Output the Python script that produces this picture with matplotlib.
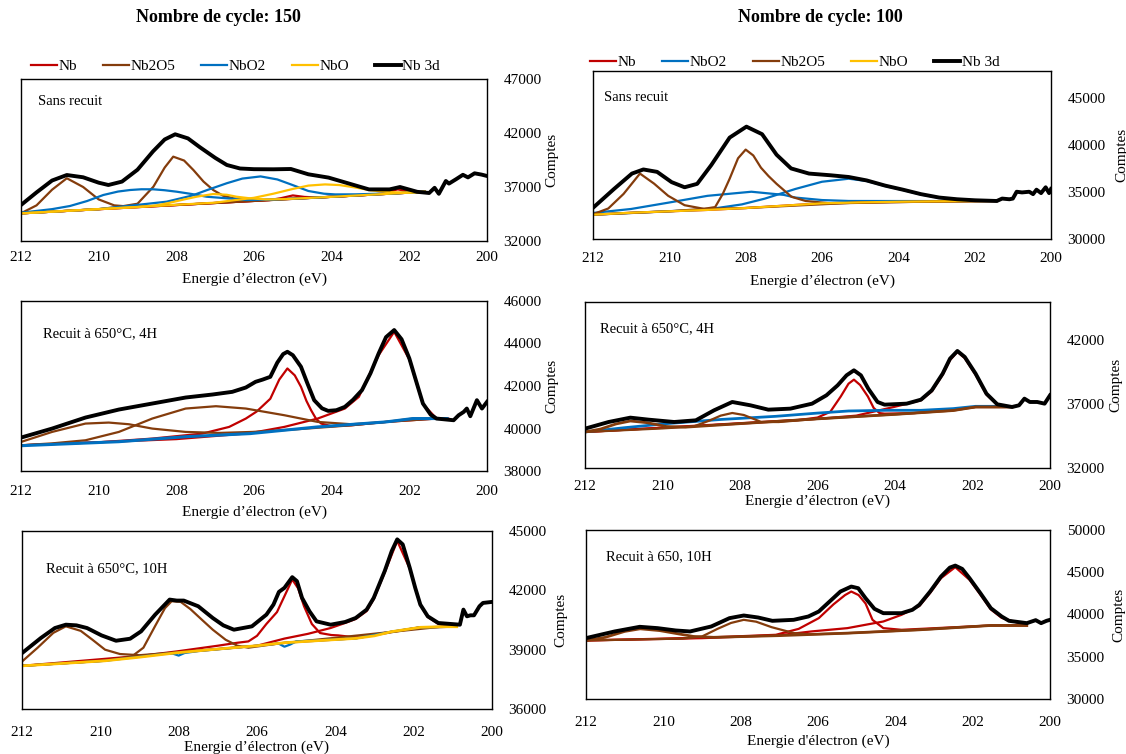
import matplotlib
matplotlib.use("Agg")
import matplotlib.pyplot as plt

plt.rcParams['font.family'] = ['Liberation Serif', 'DejaVu Serif']

RED = '#C00000'
BROWN = '#843C0C'
BLUE = '#0070C0'
YELLOW = '#FFC000'

xticks = [212, 210, 208, 206, 204, 202, 200]

# ---------------- Panel 1 : 150 cycles, sans recuit ----------------
p1_black_x = [212, 211.6, 211.2, 210.82, 210.4, 210.0, 209.75, 209.4, 209.0, 208.6, 208.3, 208.03,
              207.7, 207.4, 207.0, 206.7, 206.36, 206.0, 205.5, 205.05, 204.6, 204.08, 203.48,
              203.04, 202.51, 202.24, 201.8, 201.49, 201.35, 201.24, 201.06, 200.98, 200.8,
              200.62, 200.49, 200.32, 200.14, 200.0]
p1_black_y = [35333, 36500, 37600, 38110, 37900, 37400, 37185, 37500, 38600, 40300, 41400, 41880,
              41500, 40700, 39700, 39040, 38713, 38650, 38640, 38667, 38176, 37870, 37240,
              36778, 36778, 37000, 36555, 36444, 36925, 36370, 37555, 37315, 37713,
              38130, 37889, 38268, 38148, 38020]
p1_nb2o5_a_x = [212, 211.6, 211.2, 210.82, 210.4, 210.0, 209.6, 209.2, 208.5, 207, 204, 201.6]
p1_nb2o5_a_y = [34565, 35300, 36750, 37810, 37000, 35850, 35300, 35180, 35250, 35520, 36090, 36556]
p1_nb2o5_b_x = [212, 210, 209.5, 209.0, 208.59, 208.3, 208.08, 207.8, 207.56, 207.3, 207.05,
                206.8, 206.53, 206.2, 205.85, 204, 201.6]
p1_nb2o5_b_y = [34560, 34950, 35150, 35450, 37030, 38800, 39810, 39450, 38570, 37500, 36720,
                36200, 35950, 35800, 35780, 36090, 36556]
p1_nbo2_a_x = [212, 211.2, 210.74, 210.3, 209.88, 209.5, 209.19, 208.9, 208.59, 208.3, 207.99,
               207.6, 207.22, 206.7, 206.2, 205.5, 204.5, 203, 201.6]
p1_nbo2_a_y = [34620, 34950, 35240, 35700, 36260, 36580, 36722, 36790, 36786, 36700, 36564,
               36350, 36100, 35953, 35800, 35840, 36000, 36290, 36556]
p1_nbo2_b_x = [212, 210, 208.25, 207.6, 207.22, 206.7, 206.3, 205.83, 205.4, 205.05, 204.6,
               204.2, 203.91, 203.4, 202.86, 202, 201.6]
p1_nbo2_b_y = [34560, 34950, 35640, 36200, 36700, 37350, 37780, 37980, 37700, 37240, 36630,
               36380, 36314, 36320, 36370, 36480, 36556]
p1_nbo_a_x = [212, 210, 209, 208.5, 208.16, 207.8, 207.48, 207.05, 206.7, 206.45, 206.1, 205.7,
              205.2, 204, 201.6]
p1_nbo_a_y = [34560, 34950, 35140, 35300, 35550, 35850, 36100, 36350, 36280, 36100, 35950, 35850,
              35880, 36090, 36556]
p1_nbo_b_x = [212, 207, 206.5, 206.0, 205.5, 205.0, 204.6, 204.17, 203.8, 203.4, 203.0, 202.5,
              202.0, 201.6]
p1_nbo_b_y = [34560, 35550, 35780, 36000, 36380, 36820, 37130, 37240, 37180, 36960, 36700, 36520,
              36480, 36556]
p1_nb_a_x = [212, 206, 205.6, 205.3, 205.0, 204.7, 204.4, 204, 201.6]
p1_nb_a_y = [34560, 35710, 35790, 35970, 36220, 36080, 36040, 36090, 36556]
p1_nb_b_x = [212, 203, 202.7, 202.5, 202.3, 202.1, 201.9, 201.6]
p1_nb_b_y = [34560, 36290, 36400, 36600, 36780, 36650, 36500, 36556]

# ---------------- Panel 2 : 100 cycles, sans recuit ----------------
p2_black_x = [212, 211.45, 210.98, 210.68, 210.32, 209.94, 209.6, 209.27, 208.9, 208.42, 207.98,
              207.57, 207.19, 206.81, 206.34, 205.77, 205.3, 204.83, 204.35, 203.88, 203.41,
              202.93, 202.46, 201.99, 201.42, 201.28, 201.09, 201.0, 200.9, 200.76, 200.57,
              200.47, 200.38, 200.26, 200.14, 200.05, 200.0]
p2_black_y = [33321, 35328, 36971, 37409, 37153, 36058, 35511, 35876, 37883, 40803, 41971,
              41168, 38978, 37518, 36971, 36788, 36606, 36241, 35693, 35255, 34781,
              34416, 34234, 34124, 34051, 34307, 34234, 34307, 35036, 34963, 35036,
              34781, 35255, 34890, 35511, 34890, 35328]
p2_nb2o5_a_x = [212, 211.6, 211.2, 210.77, 210.4, 210.03, 209.6, 209.09, 208, 205, 201.42]
p2_nb2o5_a_y = [32640, 33250, 34800, 36971, 35900, 34600, 33600, 33212, 33300, 33900, 34051]
p2_nb2o5_b_x = [212, 210, 209.09, 208.8, 208.6, 208.42, 208.2, 208.0, 207.8, 207.6, 207.4,
                207.19, 206.8, 206.43, 205.77, 203, 201.42]
p2_nb2o5_b_y = [32591, 32950, 33212, 33400, 34800, 36420, 38600, 39525, 38900, 37600, 36700,
                35876, 34500, 34051, 33796, 34000, 34051]
p2_nbo2_a_x = [212, 211, 210.03, 209, 207.85, 207, 206.7, 206, 205.3, 203, 201.42]
p2_nbo2_a_y = [32774, 33200, 33869, 34600, 35036, 34700, 34416, 34150, 34051, 34040, 34051]
p2_nbo2_b_x = [212, 209, 208.1, 207.5, 206.7, 206.0, 205.3, 204.83, 204.35, 203.88, 203.41,
               202.93, 202.46, 201.99, 201.42]
p2_nbo2_b_y = [32591, 33150, 33686, 34300, 35328, 36100, 36423, 36180, 35650, 35220, 34740,
               34390, 34210, 34110, 34051]
p2_base_x = [212, 211, 210, 209, 208, 207, 206, 205, 204, 203, 202, 201.42]
p2_base_y = [32591, 32800, 32950, 33100, 33300, 33550, 33800, 33900, 33970, 34010, 34040, 34051]

# ---------------- Panel 3 : 150 cycles, 650°C 4H ----------------
p3_black_x = [212, 211.2, 210.34, 209.48, 208.62, 207.76, 207.07, 206.56, 206.21, 205.96, 205.78,
              205.58, 205.4, 205.25, 205.14, 205.0, 204.79, 204.62, 204.45, 204.25, 204.09,
              203.88, 203.66, 203.45, 203.22, 203.0, 202.79, 202.6, 202.39, 202.2, 202.0,
              201.82, 201.65, 201.45, 201.3, 200.86, 200.73, 200.6, 200.52, 200.43, 200.26,
              200.13, 200.0]
p3_black_y = [39572, 39996, 40515, 40892, 41175, 41458, 41599, 41725, 41929, 42197, 42300,
              42432, 43100, 43500, 43611, 43450, 42904, 42100, 41332, 40950, 40829,
              40860, 41018, 41350, 41804, 42600, 43533, 44300, 44633, 44200, 43297,
              42200, 41175, 40650, 40468, 40389, 40625, 40780, 40939, 40578, 41332,
              40939, 41253]
p3_nb2o5_a_x = [212, 211.2, 210.34, 209.74, 209.22, 208.62, 207.76, 206.9, 206.04, 205.0,
                203.5, 202.6, 201.3]
p3_nb2o5_a_y = [39367, 39839, 40232, 40279, 40200, 39996, 39839, 39792, 39839, 39950,
                40150, 40310, 40468]
p3_nb2o5_b_x = [212, 211.2, 210.34, 209.48, 208.62, 207.76, 206.98, 206.21, 205.22, 204.36,
                203.49, 202.6, 201.91, 201.3]
p3_nb2o5_b_y = [39210, 39300, 39446, 39839, 40468, 40939, 41049, 40939, 40625, 40310,
                40200, 40310, 40468, 40468]
p3_nb_a_x = [212, 210, 208.62, 207.33, 206.64, 206.21, 205.93, 205.58, 205.35, 205.14, 204.95,
             204.79, 204.65, 204.53, 204.4, 204.27, 204.0, 203.5, 202.6, 201.3]
p3_nb_a_y = [39210, 39350, 39525, 39760, 40075, 40468, 40800, 41400, 42300, 42825, 42500,
             41961, 41300, 40861, 40450, 40232, 40106, 40150, 40310, 40468]
p3_nb_b_x = [212, 208, 206.1, 205.22, 204.36, 203.66, 203.3, 202.79, 202.39, 202.0, 201.65,
             201.3, 201.0]
p3_nb_b_y = [39210, 39500, 39780, 40075, 40468, 40939, 41489, 43450, 44550, 43250, 41150,
             40470, 40468]
p3_nbo2_x = [212, 209.48, 207.76, 206.1, 204.36, 202.6, 201.91, 201.03]
p3_nbo2_y = [39190, 39379, 39614, 39760, 40075, 40310, 40468, 40468]

# ---------------- Panel 4 : 100 cycles, 650°C 4H ----------------
p4_black_x = [212, 211.39, 210.83, 210.36, 209.7, 209.14, 208.67, 208.2, 207.73, 207.27, 206.7,
              206.14, 205.77, 205.48, 205.25, 205.06, 204.88, 204.69, 204.45, 204.27, 203.7,
              203.33, 203.05, 202.77, 202.58, 202.39, 202.2, 201.92, 201.64, 201.36, 200.98,
              200.8, 200.66, 200.52, 200.33, 200.14, 200.0]
p4_black_y = [35081, 35603, 35943, 35786, 35603, 35734, 36517, 37170, 36909, 36569, 36648,
              37039, 37692, 38475, 39258, 39650, 39258, 38214, 37170, 36961, 37039,
              37352, 38084, 39389, 40564, 41164, 40694, 39389, 37822, 36987, 36778,
              36909, 37430, 37170, 37170, 37039, 37692]
p4_nb2o5_a_x = [212, 211.6, 211.2, 210.83, 210.4, 209.9, 209.4, 208, 206, 204, 202.5, 201.92,
                200.98]
p4_nb2o5_a_y = [34820, 35050, 35450, 35681, 35550, 35250, 35200, 35473, 35850, 36200, 36500,
                36778, 36778]
p4_nb2o5_b_x = [212, 210, 209.2, 208.8, 208.5, 208.2, 207.9, 207.45, 207.0, 206, 204, 202.5,
                201.92, 200.98]
p4_nb2o5_b_y = [34820, 35100, 35250, 35700, 36100, 36308, 36150, 35603, 35600, 35850, 36200,
                36500, 36778, 36778]
p4_nb_a_x = [212, 208, 206.5, 206.0, 205.67, 205.4, 205.2, 205.06, 204.9, 204.7, 204.55, 204.4,
             204.27, 203.5, 201.92, 200.98]
p4_nb_a_y = [34820, 35473, 35750, 35950, 36400, 37600, 38600, 38919, 38500, 37600, 36700, 36300,
             36256, 36300, 36778, 36778]
p4_nb_b_x = [212, 206, 205, 204.5, 204.0, 203.33, 203.05, 202.77, 202.58, 202.39, 202.2, 201.92,
             201.64, 201.36, 200.98]
p4_nb_b_y = [34820, 35850, 36100, 36450, 36800, 37300, 38000, 39300, 40450, 41100, 40600, 39300,
             37750, 36950, 36778]
p4_nbo2_x = [212, 211, 209.9, 208.5, 207.08, 206, 205.2, 204.2, 203.33, 202.5, 201.92, 201.2]
p4_nbo2_y = [34820, 35150, 35473, 35800, 36047, 36300, 36465, 36520, 36517, 36650, 36830, 36830]

# ---------------- Panel 5 : 150 cycles, 650°C 10H ----------------
p5_black_x = [212, 211.52, 211.16, 210.88, 210.61, 210.34, 209.97, 209.6, 209.24, 208.96, 208.6,
              208.23, 208.05, 207.87, 207.5, 207.13, 206.86, 206.59, 206.13, 205.76, 205.58,
              205.44, 205.3, 205.1, 204.98, 204.85, 204.66, 204.48, 204.12, 203.75, 203.48,
              203.2, 203.02, 202.74, 202.56, 202.42, 202.28, 202.1, 201.96, 201.83, 201.64,
              201.37, 200.82, 200.73, 200.64, 200.55, 200.46, 200.32, 200.23, 200.0]
p5_black_y = [38825, 39587, 40094, 40263, 40229, 40094, 39722, 39452, 39553, 39925, 40771,
              41532, 41482, 41482, 41194, 40602, 40229, 40010, 40179, 40771, 41278,
              41921, 42124, 42666, 42463, 41617, 40940, 40432, 40263, 40399, 40602,
              41025, 41617, 42970, 43985, 44577, 44323, 43139, 42124, 41278, 40686,
              40348, 40263, 41025, 40686, 40737, 40737, 41194, 41363, 41414]
p5_nb2o5_a_x = [212, 211.6, 211.2, 210.88, 210.5, 210.2, 209.88, 209.5, 209.0, 208, 206, 204,
                201.3]
p5_nb2o5_a_y = [38400, 39100, 39850, 40180, 39950, 39500, 39000, 38780, 38720, 38870, 39200,
                39600, 40160]
p5_nb2o5_b_x = [212, 209.9, 209.2, 208.9, 208.6, 208.35, 208.18, 207.95, 207.7, 207.4, 207.13,
                206.8, 206.5, 206.22, 205.3, 203.48, 201.83, 200.9]
p5_nb2o5_b_y = [38183, 38437, 38650, 39100, 40200, 41100, 41448, 41420, 41050, 40500, 40011,
                39500, 39200, 39100, 39350, 39571, 40130, 40160]
p5_nb_a_x = [212, 210, 208.05, 207, 206.5, 206.22, 206.0, 205.76, 205.49, 205.3, 205.1, 204.95,
             204.8, 204.6, 204.39, 204.1, 203.93, 203.48, 201.83, 200.9]
p5_nb_a_y = [38183, 38430, 38911, 39200, 39350, 39418, 39700, 40300, 40900, 41700, 42549, 42100,
             41200, 40300, 39841, 39740, 39722, 39620, 40130, 40160]
p5_nb_b_x = [212, 208, 206, 205.3, 204.7, 204.12, 203.75, 203.48, 203.2, 203.02, 202.74, 202.42,
             202.1, 201.83, 201.64, 201.37, 200.9]
p5_nb_b_y = [38183, 38850, 39200, 39560, 39800, 40095, 40350, 40550, 40950, 41550, 42900, 44500,
             43100, 41250, 40650, 40300, 40160]
p5_nbo2_x = [212, 209.88, 208.4, 208.15, 208.0, 207.85, 207.5, 206, 205.45, 205.3, 205.15, 205.0,
             203.48, 202.57, 201.83, 200.9]
p5_nbo2_y = [38183, 38437, 38780, 38800, 38700, 38830, 38930, 39200, 39310, 39150, 39260, 39420,
             39571, 39909, 40130, 40160]
p5_nbo_x = [212, 211, 209.88, 209, 208.05, 207, 206, 205.3, 204.5, 203.48, 203, 202.57, 201.83,
            201.3, 200.9]
p5_nbo_y = [38183, 38300, 38437, 38620, 38843, 39030, 39200, 39350, 39450, 39571, 39700, 39909,
            40130, 40160, 40160]

# ---------------- Panel 6 : 100 cycles, 650 10H ----------------
p6_black_x = [212, 211.26, 210.61, 210.15, 209.68, 209.31, 208.76, 208.29, 207.92, 207.55, 207.18,
              206.63, 206.25, 205.98, 205.7, 205.42, 205.14, 204.96, 204.77, 204.54, 204.31,
              203.84, 203.56, 203.38, 203.1, 202.82, 202.59, 202.45, 202.27, 202.08, 201.8,
              201.53, 201.25, 201.06, 200.6, 200.37, 200.23, 200.09, 200.0]
p6_black_y = [37205, 37992, 38543, 38386, 38110, 37992, 38583, 39567, 39882, 39646, 39252,
              39370, 39764, 40354, 41535, 42717, 43307, 43110, 41929, 40669, 40157,
              40157, 40551, 41142, 42717, 44488, 45551, 45787, 45394, 44291, 42520,
              40748, 39764, 39252, 38976, 39331, 38976, 39252, 39370]
p6_nb2o5_a_x = [212, 211.5, 211.0, 210.6, 210.1, 209.6, 209.22, 208.7, 207, 205.23, 203.38,
                201.53, 200.6]
p6_nb2o5_a_y = [36929, 37300, 38000, 38307, 38100, 37700, 37402, 37300, 37500, 37795, 38189,
                38701, 38701]
p6_nb2o5_b_x = [212, 209.5, 209.0, 208.6, 208.25, 207.92, 207.6, 207.2, 206.62, 206.2, 205.23,
                203.38, 201.53, 200.6]
p6_nb2o5_b_y = [36929, 37150, 37400, 38300, 39000, 39370, 39150, 38500, 37795, 37650, 37795,
                38189, 38701, 38701]
p6_nb_a_x = [212, 209, 207.09, 206.5, 205.98, 205.6, 205.3, 205.14, 204.95, 204.77, 204.59,
             204.31, 203.84, 201.53, 200.6]
p6_nb_a_y = [36929, 37250, 37598, 38300, 39567, 41200, 42300, 42717, 42300, 41300, 39370,
             38386, 38189, 38701, 38701]
p6_nb_b_x = [212, 209, 207, 206.16, 205.24, 204.31, 203.84, 203.38, 203.1, 202.82, 202.45,
             202.08, 201.8, 201.53, 201.25, 200.6]
p6_nb_b_y = [36929, 37200, 37550, 38000, 38386, 39173, 39961, 41000, 42550, 44300, 45600,
             44100, 42350, 40600, 39600, 38701]


def setup(ax, ylim, yticks, ylab_x, note, xpad, lpad, xlabel="Energie d’électron (eV)"):
    ax.set_xlim(212, 200)
    ax.set_ylim(*ylim)
    ax.set_xticks(xticks)
    ax.set_yticks(yticks)
    ax.yaxis.tick_right()
    ax.tick_params(length=0, labelsize=11)
    ax.tick_params(axis='y', pad=12)
    ax.tick_params(axis='x', pad=xpad)
    ax.set_xlabel(xlabel, fontsize=11, labelpad=lpad)
    ax.yaxis.set_label_position('right')
    ax.set_ylabel("Comptes", fontsize=11)
    ax.yaxis.set_label_coords(ylab_x, 0.5)
    for s in ax.spines.values():
        s.set_linewidth(1.0)
        s.set_color('black')
    ax.text(note[0], note[1], note[2], transform=ax.transAxes, fontsize=10.5,
            ha='left', va='center')


def box(left, right, top, bottom):
    W, H = 1126, 754
    return [left / W, 1 - bottom / H, (right - left) / W, (bottom - top) / H]


fig = plt.figure(figsize=(11.26, 7.54), dpi=100)
thin = 1.6
thick = 2.8

# Panel 1
ax1 = fig.add_axes(box(21, 487, 79, 241))
ax1.plot(p1_nb_a_x, p1_nb_a_y, color=RED, lw=thin, label='Nb')
ax1.plot(p1_nb_b_x, p1_nb_b_y, color=RED, lw=thin)
ax1.plot(p1_nb2o5_a_x, p1_nb2o5_a_y, color=BROWN, lw=thin, label='Nb2O5')
ax1.plot(p1_nb2o5_b_x, p1_nb2o5_b_y, color=BROWN, lw=thin)
ax1.plot(p1_nbo2_a_x, p1_nbo2_a_y, color=BLUE, lw=thin, label='NbO2')
ax1.plot(p1_nbo2_b_x, p1_nbo2_b_y, color=BLUE, lw=thin)
ax1.plot(p1_nbo_a_x, p1_nbo_a_y, color=YELLOW, lw=thin, label='NbO')
ax1.plot(p1_nbo_b_x, p1_nbo_b_y, color=YELLOW, lw=thin)
ax1.plot(p1_black_x, p1_black_y, color='black', lw=thick, label='Nb 3d')
setup(ax1, (32000, 47000), [32000, 37000, 42000, 47000], 1.125, (0.036, 0.86, 'Sans recuit'),
      7, 6)

# Panel 2
ax2 = fig.add_axes(box(593, 1051, 71, 239))
ax2.plot(p2_base_x, p2_base_y, color=RED, lw=thin, label='Nb')
ax2.plot(p2_nbo2_a_x, p2_nbo2_a_y, color=BLUE, lw=thin, label='NbO2')
ax2.plot(p2_nbo2_b_x, p2_nbo2_b_y, color=BLUE, lw=thin)
ax2.plot(p2_nb2o5_a_x, p2_nb2o5_a_y, color=BROWN, lw=thin, label='Nb2O5')
ax2.plot(p2_nb2o5_b_x, p2_nb2o5_b_y, color=BROWN, lw=thin)
ax2.plot(p2_base_x, p2_base_y, color=YELLOW, lw=thin, label='NbO')
ax2.plot(p2_black_x, p2_black_y, color='black', lw=thick, label='Nb 3d')
setup(ax2, (30000, 47900), [30000, 35000, 40000, 45000], 1.14, (0.024, 0.84, 'Sans recuit'),
      9, 7.5)

for ax, cx, cy in [(ax1, 0.46, 1.08), (ax2, 0.44, 1.05)]:
    ax.legend(loc='center', bbox_to_anchor=(cx, cy), ncol=5, frameon=False, fontsize=11,
              handlelength=1.7, handletextpad=0.1, columnspacing=1.7, borderaxespad=0)

# Panel 3
ax3 = fig.add_axes(box(21, 487, 301, 471))
ax3.plot(p3_nb_a_x, p3_nb_a_y, color=RED, lw=thin)
ax3.plot(p3_nb_b_x, p3_nb_b_y, color=RED, lw=thin)
ax3.plot(p3_nb2o5_a_x, p3_nb2o5_a_y, color=BROWN, lw=thin)
ax3.plot(p3_nb2o5_b_x, p3_nb2o5_b_y, color=BROWN, lw=thin)
ax3.plot(p3_nbo2_x, p3_nbo2_y, color=BLUE, lw=thin + 0.6)
ax3.plot(p3_black_x, p3_black_y, color='black', lw=thick)
setup(ax3, (38000, 46000), [38000, 40000, 42000, 44000, 46000], 1.125,
      (0.047, 0.81, 'Recuit à 650°C, 4H'), 10, 5.5)

# Panel 4
ax4 = fig.add_axes(box(585, 1050, 302, 468))
ax4.plot(p4_nb_a_x, p4_nb_a_y, color=RED, lw=thin)
ax4.plot(p4_nb_b_x, p4_nb_b_y, color=RED, lw=thin)
ax4.plot(p4_nbo2_x, p4_nbo2_y, color=BLUE, lw=thin + 0.4)
ax4.plot(p4_nb2o5_a_x, p4_nb2o5_a_y, color=BROWN, lw=thin + 0.4)
ax4.plot(p4_nb2o5_b_x, p4_nb2o5_b_y, color=BROWN, lw=thin)
ax4.plot(p4_black_x, p4_black_y, color='black', lw=thick)
setup(ax4, (32000, 45000), [32000, 37000, 42000], 1.128,
      (0.032, 0.84, 'Recuit à 650°C, 4H'), 9, 1)

# Panel 5
ax5 = fig.add_axes(box(22, 492, 531, 709))
ax5.plot(p5_nb_a_x, p5_nb_a_y, color=RED, lw=thin)
ax5.plot(p5_nb_b_x, p5_nb_b_y, color=RED, lw=thin)
ax5.plot(p5_nb2o5_a_x, p5_nb2o5_a_y, color=BROWN, lw=thin)
ax5.plot(p5_nb2o5_b_x, p5_nb2o5_b_y, color=BROWN, lw=thin)
ax5.plot(p5_nbo2_x, p5_nbo2_y, color=BLUE, lw=thin)
ax5.plot(p5_nbo_x, p5_nbo_y, color=YELLOW, lw=thin + 0.4)
ax5.plot(p5_black_x, p5_black_y, color='black', lw=thick)
setup(ax5, (36000, 45000), [36000, 39000, 42000, 45000], 1.133,
      (0.05, 0.79, 'Recuit à 650°C, 10H'), 12, 1)

# Panel 6
ax6 = fig.add_axes(box(586, 1050, 530, 699))
ax6.plot(p6_nb_a_x, p6_nb_a_y, color=RED, lw=thin)
ax6.plot(p6_nb_b_x, p6_nb_b_y, color=RED, lw=thin)
ax6.plot(p6_nb2o5_a_x, p6_nb2o5_a_y, color=BROWN, lw=thin + 0.4)
ax6.plot(p6_nb2o5_b_x, p6_nb2o5_b_y, color=BROWN, lw=thin)
ax6.plot(p6_black_x, p6_black_y, color='black', lw=thick)
setup(ax6, (30000, 50000), [30000, 35000, 40000, 45000, 50000], 1.135,
      (0.043, 0.84, 'Recuit à 650, 10H'), 12, 4.5, xlabel="Energie d'électron (eV)")

fig.text(218 / 1126, 1 - 18 / 754, 'Nombre de cycle: 150', fontsize=13, fontweight='bold',
         ha='center', va='center')
fig.text(820 / 1126, 1 - 18 / 754, 'Nombre de cycle: 100', fontsize=13, fontweight='bold',
         ha='center', va='center')

fig.savefig('out.png', dpi=100)
